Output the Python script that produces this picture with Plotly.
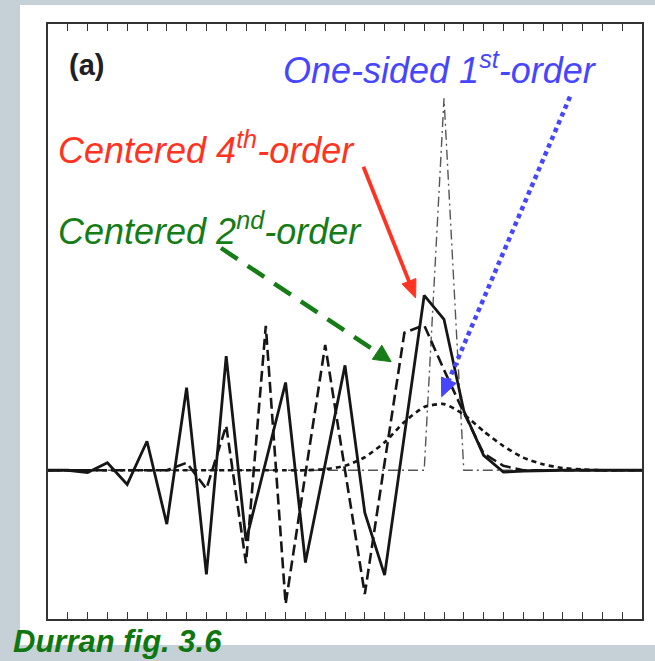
import math
import plotly.graph_objects as go

# ---------------- data (grid index 0..30) ----------------
grid_x = list(range(31))
exact_solution = [0, 0, 0, 0, 0, 0, 0, 0, 0, 0, 0, 0, 0, 0, 0, 0, 0, 0, 0, 0,
                  1.0, 0, 0, 0, 0, 0, 0, 0, 0, 0, 0]
centered_4th = [0, 0, -0.006, 0.02, -0.038, 0.078, -0.145, 0.222, -0.28, 0.307,
                -0.19, 0.025, 0.236, -0.248, 0.016, 0.282, -0.114, -0.282, 0.094, 0.47,
                0.406, 0.16, 0.04, -0.005, -0.002, 0, 0, 0, 0, 0, 0]
centered_2nd = [0, 0, 0, 0, 0, 0, 0, 0.02, -0.05, 0.12,
                -0.25, 0.388, -0.36, -0.01, 0.337, 0.0, -0.333, 0.02, 0.37, 0.39,
                0.27, 0.155, 0.045, 0.012, 0, 0, 0, 0, 0, 0, 0]
one_sided_1st = [0, 0, 0, 0, 0, 0, 0, 0, 0, 0,
                 0, 0, 0, 0, 0.003, 0.012, 0.035, 0.075, 0.13, 0.17,
                 0.178, 0.15, 0.105, 0.065, 0.034, 0.016, 0.006, 0.002, 0, 0, 0]
tick_positions = list(range(1, 30))

# ---------------- layout geometry (pixels) ----------------
W, H = 655, 661
L, R, T, B = 48, 642, 24, 619
XR = (0, 30)
YR = (-0.4, 1.2)

def dx(px):
    return XR[0] + (px - L) / (R - L) * (XR[1] - XR[0])

def dy(py):
    return YR[1] - (py - T) / (B - T) * (YR[1] - YR[0])

def px_x(px):
    return (px - L) / (R - L)

def px_y(py):
    return (B - py) / (B - T)

INK = "#161616"
RED = "#ff3322"
GREEN = "#167c16"
BLUE = "#4646ff"
FONT = "Liberation Sans, Arial, sans-serif"


def arrow(tail, tip, color, width, dash, head_len=17, head_half=8):
    """Shaft + filled triangular head, given in pixel positions of the picture."""
    vx, vy = tip[0] - tail[0], tip[1] - tail[1]
    n = math.hypot(vx, vy)
    ux, uy = vx / n, vy / n
    bx, by = tip[0] - ux * head_len, tip[1] - uy * head_len
    px_, py_ = -uy, ux
    c1 = (bx + px_ * head_half, by + py_ * head_half)
    c2 = (bx - px_ * head_half, by - py_ * head_half)
    shaft = dict(type="line", xref="x", yref="y",
                 x0=dx(tail[0]), y0=dy(tail[1]),
                 x1=dx(bx + ux * 2), y1=dy(by + uy * 2),
                 line=dict(color=color, width=width, dash=dash))
    path = "M {} {} L {} {} L {} {} Z".format(
        dx(tip[0]), dy(tip[1]), dx(c1[0]), dy(c1[1]), dx(c2[0]), dy(c2[1]))
    head = dict(type="path", xref="x", yref="y", path=path,
                fillcolor=color, line=dict(color=color, width=1))
    return [shaft, head]


fig = go.Figure()

fig.add_trace(go.Scatter(x=grid_x, y=exact_solution, mode="lines",
                         line=dict(color="#555555", width=1.4, dash="10px,4px,2px,4px"),
                         hoverinfo="skip"))
fig.add_trace(go.Scatter(x=grid_x, y=one_sided_1st, mode="lines",
                         line=dict(color=INK, width=2.7, dash="5px,4px", shape="spline", smoothing=0.6),
                         hoverinfo="skip"))
fig.add_trace(go.Scatter(x=grid_x, y=centered_2nd, mode="lines",
                         line=dict(color=INK, width=2.6, dash="11px,5px"),
                         hoverinfo="skip"))
fig.add_trace(go.Scatter(x=grid_x, y=centered_4th, mode="lines",
                         line=dict(color=INK, width=2.8),
                         hoverinfo="skip"))

shapes = [
    # white slide panel
    dict(type="rect", xref="paper", yref="paper",
         x0=px_x(20), x1=px_x(655), y0=px_y(645), y1=px_y(5),
         fillcolor="white", line=dict(width=0), layer="below"),
]
shapes += arrow((363.4, 166.7), (415.6, 298), RED, 3.8, "solid", head_len=18, head_half=7.5)
shapes += arrow((221, 248), (391.2, 361.7), GREEN, 4.5, "20px,12px", head_len=17, head_half=8.5)
shapes += arrow((570, 96.7), (441.7, 396.7), BLUE, 4.5, "4.5px,4px", head_len=18, head_half=8)

annotations = [
    dict(x=dx(67), y=dy(65), xref="x", yref="y", text="<b>(a)</b>", showarrow=False,
         xanchor="left", yanchor="middle",
         font=dict(family=FONT, size=29, color="#202020")),
    dict(x=dx(56), y=dy(148), xref="x", yref="y",
         text="<i>Centered 4<sup>th</sup>-order</i>", showarrow=False,
         xanchor="left", yanchor="middle",
         font=dict(family=FONT, size=36, color=RED)),
    dict(x=dx(56), y=dy(229), xref="x", yref="y",
         text="<i>Centered 2<sup>nd</sup>-order</i>", showarrow=False,
         xanchor="left", yanchor="middle",
         font=dict(family=FONT, size=36, color=GREEN)),
    dict(x=dx(281), y=dy(68), xref="x", yref="y",
         text="<i>One-sided 1<sup>st</sup>-order</i>", showarrow=False,
         xanchor="left", yanchor="middle",
         font=dict(family=FONT, size=36, color=BLUE)),
    dict(x=px_x(11), y=px_y(641), xref="paper", yref="paper",
         text="<b><i>Durran fig. 3.6</i></b>", showarrow=False,
         xanchor="left", yanchor="middle",
         font=dict(family=FONT, size=31, color="#0f770f")),
]

fig.update_layout(
    width=W, height=H,
    margin=dict(l=L, r=W - R, t=T, b=H - B, pad=0),
    paper_bgcolor="#c6d0d7",
    plot_bgcolor="white",
    showlegend=False,
    shapes=shapes,
    annotations=annotations,
    xaxis=dict(range=list(XR), showgrid=False, zeroline=False, showline=True,
               linecolor="#333333", linewidth=1.5, mirror="ticks",
               ticks="inside", ticklen=7, tickwidth=1.2, tickcolor="#333333",
               tickvals=tick_positions, showticklabels=False, fixedrange=True),
    yaxis=dict(range=list(YR), showgrid=False, zeroline=False, showline=True,
               linecolor="#333333", linewidth=1.5, mirror=True,
               ticks="", showticklabels=False, fixedrange=True),
)

fig.write_html("out.html")
